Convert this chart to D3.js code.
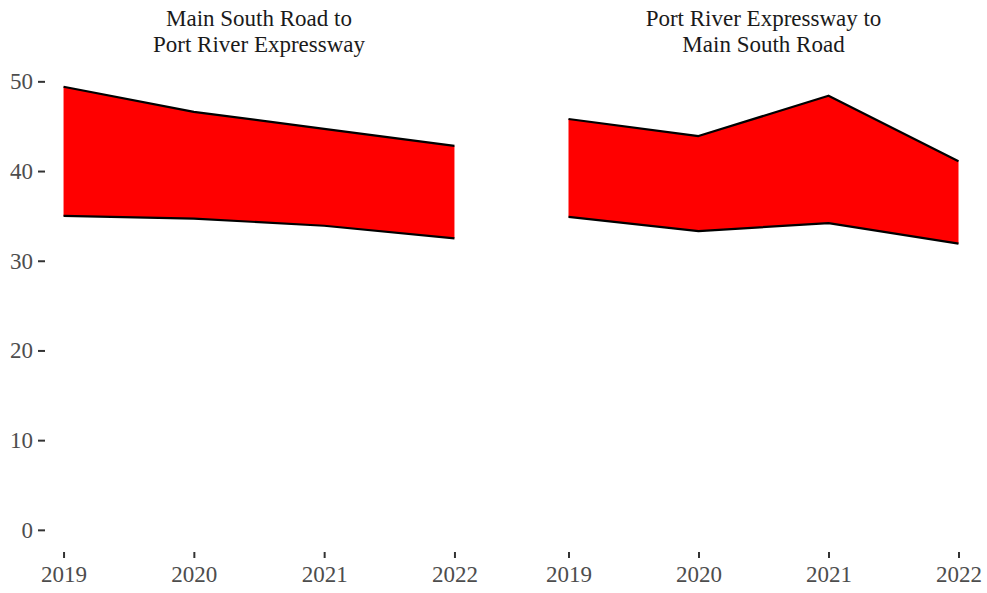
<!DOCTYPE html>
<html>
<head>
<meta charset="utf-8">
<script src="https://cdn.jsdelivr.net/npm/d3@7"></script>
<style>
  html, body { margin: 0; padding: 0; background: #fff; }
  svg { display: block; }
  text { font-family: "Liberation Serif", "Times New Roman", serif; }
</style>
</head>
<body>
<svg id="chart" width="987" height="593"></svg>
<script>
// Years shown on the x axis of each facet
const years = [2019, 2020, 2021, 2022];

// Facet titles (two lines each)
const facetTitles = [
  ["Main South Road to", "Port River Expressway"],
  ["Port River Expressway to", "Main South Road"]
];

// Lower and upper bounds of the band, per facet
const lowerA = [35.0, 34.7, 33.9, 32.5];
const upperA = [49.4, 46.6, 44.7, 42.8];
const lowerB = [34.9, 33.3, 34.2, 31.9];
const upperB = [45.8, 43.9, 48.4, 41.1];

// Y axis tick values
const yTicks = [0, 10, 20, 30, 40, 50];

const facets = [
  { title: facetTitles[0], lower: lowerA, upper: upperA },
  { title: facetTitles[1], lower: lowerB, upper: upperB }
];

const svg = d3.select("#chart");

const panelBottom = 552;
const panels = [
  { left: 44, right: 474 },
  { left: 549, right: 978 }
];

const yMax = d3.max(facets.flatMap(f => f.upper));
const yPad = yMax * 0.05;
const y = d3.scaleLinear()
  .domain([0 - yPad, yMax + yPad])
  .range([panelBottom, panelBottom - (yMax + 2 * yPad) * 8.97]);

const tickColor = "#333333";
const labelColor = "#4d4d4d";
const fontSize = "23px";

facets.forEach((f, i) => {
  const p = panels[i];
  const span = years[years.length - 1] - years[0];
  const x = d3.scaleLinear()
    .domain([years[0] - span * 0.05, years[years.length - 1] + span * 0.05])
    .range([p.left, p.right]);

  const g = svg.append("g");

  const rows = years.map((yr, k) => ({ yr, lo: f.lower[k], hi: f.upper[k] }));

  // Filled band
  g.append("path")
    .datum(rows)
    .attr("fill", "#ff0000")
    .attr("d", d3.area().x(d => x(d.yr)).y0(d => y(d.lo)).y1(d => y(d.hi)));

  // Upper and lower outlines
  ["lo", "hi"].forEach(key => {
    g.append("path")
      .datum(rows)
      .attr("fill", "none")
      .attr("stroke", "#000")
      .attr("stroke-width", 2.2)
      .attr("stroke-linejoin", "round")
      .attr("d", d3.line().x(d => x(d.yr)).y(d => y(d[key])));
  });

  // X axis
  const xAxis = g.append("g")
    .attr("transform", `translate(0,${panelBottom})`)
    .call(d3.axisBottom(x).tickValues(years).tickFormat(d3.format("d")).tickSize(6).tickPadding(8));
  xAxis.select(".domain").remove();
  xAxis.selectAll("line").attr("stroke", tickColor).attr("stroke-width", 2);
  xAxis.selectAll("text").attr("fill", labelColor).style("font-size", fontSize)
    .style("font-family", "'Liberation Serif', serif");

  // Facet title
  const cx = (p.left + p.right) / 2;
  const title = g.append("text")
    .attr("x", cx)
    .attr("y", 26)
    .attr("text-anchor", "middle")
    .attr("fill", "#1a1a1a")
    .style("font-size", fontSize);
  f.title.forEach((line, j) => {
    title.append("tspan")
      .attr("x", cx)
      .attr("dy", j === 0 ? 0 : 26)
      .text(line);
  });

  // Y axis on the first facet only
  if (i === 0) {
    const yAxis = g.append("g")
      .attr("transform", `translate(${p.left + 1},0)`)
      .call(d3.axisLeft(y).tickValues(yTicks).tickSize(7).tickPadding(5));
    yAxis.select(".domain").remove();
    yAxis.selectAll("line").attr("stroke", tickColor).attr("stroke-width", 2);
    yAxis.selectAll("text").attr("fill", labelColor).style("font-size", fontSize)
      .style("font-family", "'Liberation Serif', serif");
  }
});
</script>
</body>
</html>
